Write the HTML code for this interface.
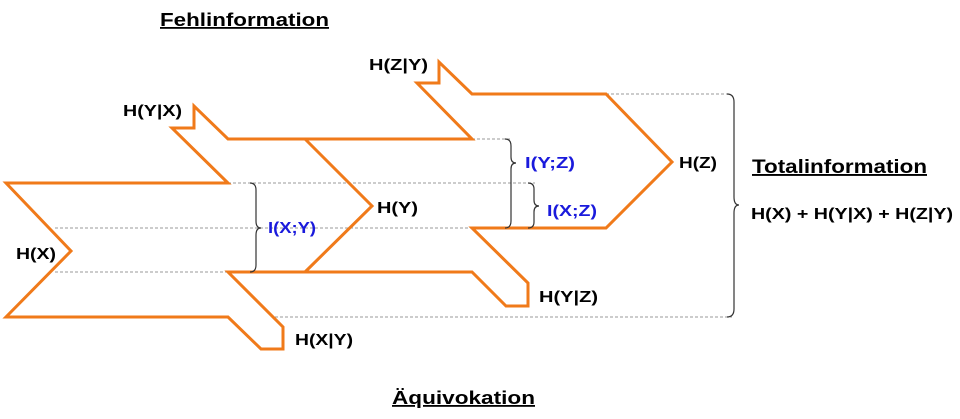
<!DOCTYPE html>
<html><head><meta charset="utf-8"><style>
html,body{margin:0;padding:0;background:#fff;width:960px;height:419px;overflow:hidden}
text{font-family:"Liberation Sans",sans-serif;font-weight:bold}
</style></head><body>
<svg width="960" height="419" viewBox="0 0 960 419" xmlns="http://www.w3.org/2000/svg">
<g stroke="#999" stroke-width="1" stroke-dasharray="3,2" fill="none">
<line x1="228" y1="183" x2="535" y2="183"/>
<line x1="55" y1="228" x2="535" y2="228"/>
<line x1="55" y1="272" x2="228" y2="272"/>
<line x1="472" y1="139" x2="510" y2="139"/>
<line x1="606" y1="94" x2="730" y2="94"/>
<line x1="275" y1="317" x2="732" y2="317"/>
</g>
<g stroke="#f07a1a" stroke-width="3" fill="none" stroke-linejoin="miter">
<path d="M6,183 L228,183 L172,128 L194,128 L194,106 L228,139 L472,139 L417,83 L439,83 L439,62 L472,94 L606,94 L672,162 L606,228 L472,228 L528,283 L528,306 L506,306 L472,272 L228,272 L283,327 L283,349 L261,349 L228,317 L6,317 L71,251 Z"/>
<path d="M305,139 L372,206 L305,272"/>
</g>
<g stroke="#333" stroke-width="1.2" fill="none">
<path d="M250,183 Q256,183 256,190 L256,221 Q256,228 261,228 Q256,228 256,235 L256,265 Q256,272 250,272"/>
<path d="M505,139 Q511,139 511,146 L511,157 Q511,163 516,163 Q511,163 511,169 L511,221 Q511,228 505,228"/>
<path d="M528,183 Q534,183 534,189 L534,200 Q534,206 539,206 Q534,206 534,212 L534,222 Q534,228 528,228"/>
<path d="M727,94 Q734,94 734,102 L734,197 Q734,205 739,205 Q734,205 734,213 L734,309 Q734,317 727,317"/>
</g>
<g font-size="16" fill="#000" lengthAdjust="spacingAndGlyphs">
<text x="123" y="116" textLength="59" lengthAdjust="spacingAndGlyphs">H(Y|X)</text>
<text x="369" y="70" textLength="59" lengthAdjust="spacingAndGlyphs">H(Z|Y)</text>
<text x="16" y="259" textLength="40" lengthAdjust="spacingAndGlyphs">H(X)</text>
<text x="377" y="213" textLength="41" lengthAdjust="spacingAndGlyphs">H(Y)</text>
<text x="679" y="168" textLength="38" lengthAdjust="spacingAndGlyphs">H(Z)</text>
<text x="539" y="302" textLength="59" lengthAdjust="spacingAndGlyphs">H(Y|Z)</text>
<text x="295" y="345" textLength="58" lengthAdjust="spacingAndGlyphs">H(X|Y)</text>
</g>
<g font-size="16" fill="#1a1adc">
<text x="268" y="233" textLength="48" lengthAdjust="spacingAndGlyphs">I(X;Y)</text>
<text x="525" y="168" textLength="50" lengthAdjust="spacingAndGlyphs">I(Y;Z)</text>
<text x="547" y="216" textLength="50" lengthAdjust="spacingAndGlyphs">I(X;Z)</text>
</g>
<text x="160" y="26" font-size="18" text-decoration="underline" textLength="169" lengthAdjust="spacingAndGlyphs">Fehlinformation</text>
<text x="392" y="404" font-size="18" text-decoration="underline" textLength="143" lengthAdjust="spacingAndGlyphs">Äquivokation</text>
<text x="752" y="173" font-size="19" text-decoration="underline" textLength="175" lengthAdjust="spacingAndGlyphs">Totalinformation</text>
<text x="751" y="219" font-size="16" textLength="202" lengthAdjust="spacingAndGlyphs">H(X) + H(Y|X) + H(Z|Y)</text>
</svg>
</body></html>
